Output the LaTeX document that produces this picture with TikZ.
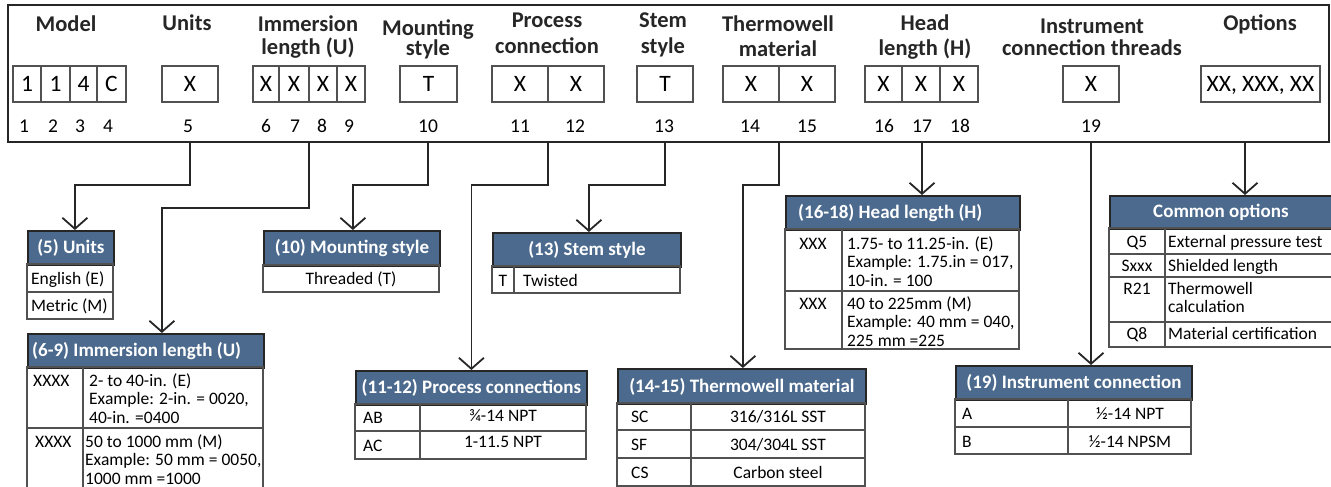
\documentclass[tikz,border=0pt]{standalone}
\usepackage{fontspec}
\setmainfont{Carlito}
\usetikzlibrary{arrows.meta}
\definecolor{hdrblue}{HTML}{4B6A8E}
\definecolor{ink}{HTML}{262626}
\begin{document}
\begin{tikzpicture}[x=1pt,y=-1pt,
  frame/.style={draw=ink, line width=2pt, inner sep=0pt, anchor=north west},
  cell/.style={draw=ink!80, line width=1.1pt, inner sep=0pt, minimum height=36pt, text height=15pt, text depth=0pt, font=\fontsize{23.5}{26}\selectfont},
  toplab/.style={font=\bfseries\fontsize{22.5}{26}\selectfont, align=center, inner sep=0pt, anchor=north, text=ink},
  num/.style={font=\fontsize{19.5}{22}\selectfont, anchor=base, inner sep=0pt},
  conn/.style={draw=ink, line width=1.8pt, -{Straight Barb[length=11pt,width=25pt]}},
  hdr/.style={fill=hdrblue, draw=ink, line width=1.8pt, inner sep=0pt, anchor=north west},
  hdrtext/.style={text=white, font=\bfseries\fontsize{19}{22}\selectfont, inner sep=0pt},
  body/.style={draw=ink!80, line width=1.1pt},
  bt/.style={font=\fontsize{17.5}{18.5}\selectfont, inner sep=0pt, anchor=base west},
  btc/.style={font=\fontsize{17.5}{18.5}\selectfont, inner sep=0pt, anchor=base},
  bml/.style={font=\fontsize{17.5}{18.5}\selectfont, inner sep=0pt, anchor=north west, align=left}
]
\useasboundingbox (0,0) rectangle (1331,487);

% ---------- top frame ----------
\node[frame, minimum width=1321pt, minimum height=137pt] (frame) at (7,4) {};

% headings (node top = first baseline - 18.2)
\node[toplab] (tModel) at (66,12.8) {\strut Model};
\node[toplab] (tUnits) at (187,11.8) {\strut Units};
\node[toplab] (tImm) at (308,12.8) {\strut Immersion\\[-3pt]length (U)};
\node[toplab] (tMount) at (428,17.3) {\strut Mounting\\[-6pt]style};
\node[toplab] (tProc) at (547,8.8) {\strut Process\\[0pt]connection};
\node[toplab] (tStem) at (663,8.8) {\strut Stem\\[0pt]style};
\node[toplab] (tTherm) at (778,12.8) {\strut Thermowell\\[-1pt]material};
\node[toplab] (tHead) at (925,11.8) {\strut Head\\[-1pt]length (H)};
\node[toplab] (tInst) at (1092,14.8) {\strut Instrument\\[-4pt]connection threads};
\node[toplab] (tOpt) at (1260,11.8) {\strut Options};

% code boxes
\node[cell, minimum width=28pt] (m1) at (27,84) {1};
\node[cell, minimum width=29pt] (m2) at (55.5,84) {1};
\node[cell, minimum width=27pt] (m3) at (83.5,84) {4};
\node[cell, minimum width=29pt] (m4) at (111.5,84) {C};
\node[cell, minimum width=56pt] (u5) at (190,84) {X};
\node[cell, minimum width=26pt] (i6) at (266,84) {X};
\node[cell, minimum width=30pt] (i7) at (294,84) {X};
\node[cell, minimum width=28pt] (i8) at (323,84) {X};
\node[cell, minimum width=28pt] (i9) at (351,84) {X};
\node[cell, minimum width=57pt] (t10) at (428.5,84) {T};
\node[cell, minimum width=56pt] (p11) at (520,84) {X};
\node[cell, minimum width=56pt] (p12) at (576,84) {X};
\node[cell, minimum width=56pt] (s13) at (665,84) {T};
\node[cell, minimum width=56pt] (w14) at (751,84) {X};
\node[cell, minimum width=56pt] (w15) at (807,84) {X};
\node[cell, minimum width=37pt] (h16) at (883.5,84) {X};
\node[cell, minimum width=38pt] (h17) at (921,84) {X};
\node[cell, minimum width=38pt] (h18) at (959,84) {X};
\node[cell, minimum width=56pt] (c19) at (1091,84) {X};
\node[cell, minimum width=119pt] (opt) at (1260.5,84) {XX, XXX, XX};

% position numbers
\node[num] (n1) at (24,132) {1};
\node[num] (n2) at (53,132) {2};
\node[num] (n3) at (80,132) {3};
\node[num] (n4) at (108,132) {4};
\node[num] (n5) at (188,132) {5};
\node[num] (n6) at (266,132) {6};
\node[num] (n7) at (295,132) {7};
\node[num] (n8) at (322,132) {8};
\node[num] (n9) at (349,132) {9};
\node[num] (n10) at (428,132) {10};
\node[num] (n11) at (520,132) {11};
\node[num] (n12) at (575,132) {12};
\node[num] (n13) at (664,132) {13};
\node[num] (n14) at (750,132) {14};
\node[num] (n15) at (807,132) {15};
\node[num] (n16) at (884,132) {16};
\node[num] (n17) at (922,132) {17};
\node[num] (n18) at (960,132) {18};
\node[num] (n19) at (1091,132) {19};

% ---------- tables ----------
% (5) Units
\node[hdr, minimum width=86pt, minimum height=34pt] (hU) at (27,230) {};
\node[hdrtext] (hUt) at (hU.center) {(5) Units};
\draw[body] (27,264) rectangle (113,292);
\draw[body] (27,292) rectangle (113,319);
\node[bt] (uE) at (31,284) {English (E)};
\node[bt] (uM) at (31,311) {Metric (M)};

% (6-9) Immersion length
\node[hdr, minimum width=236pt, minimum height=34pt] (hI) at (27,333) {};
\node[hdrtext, anchor=west] (hIt) at (hI.west) [xshift=5pt] {(6-9) Immersion length (U)};
\draw[body] (27,367) rectangle (263,428);
\draw[body] (27,428) rectangle (263,488);
\draw[body] (83,367) -- (83,488);
\node[bt] (iA) at (33,386) {XXXX};
\node[bml] (iAt) at (89,373) {\strut 2- to 40-in. (E)\\Example: 2-in. = 0020,\\40-in. =0400};
\node[bt] (iB) at (35,447) {XXXX};
\node[bml] (iBt) at (85,434) {\strut 50 to 1000 mm (M)\\Example: 50 mm = 0050,\\1000 mm =1000};

% (10) Mounting style
\node[hdr, minimum width=176pt, minimum height=35pt] (hM) at (263,230) {};
\node[hdrtext] (hMt) at (hM.center) {(10) Mounting style};
\draw[body] (263,265) rectangle (439,292);
\node[btc] (mT) at (351,284) {Threaded (T)};

% (11-12) Process connections
\node[hdr, minimum width=231pt, minimum height=34pt] (hP) at (355,370) {};
\node[hdrtext] (hPt) at (hP.center) {(11-12) Process connections};
\draw[body] (355,404) rectangle (586,431);
\draw[body] (355,431) rectangle (586,459);
\draw[body] (420,404) -- (420,459);
\node[bt] (pAB) at (363,423) {AB};
\node[btc] (pABt) at (503,421) {¾-14 NPT};
\node[bt] (pAC) at (363,451) {AC};
\node[btc] (pACt) at (503,447) {1-11.5 NPT};

% (13) Stem style
\node[hdr, minimum width=188pt, minimum height=34pt] (hS) at (492,232) {};
\node[hdrtext] (hSt) at (hS.center) {(13) Stem style};
\draw[body] (492,266) rectangle (680,293);
\draw[body] (514,266) -- (514,293);
\node[btc] (sT) at (503,286) {T};
\node[bt] (sTw) at (523,286) {Twisted};

% (14-15) Thermowell material
\node[hdr, minimum width=248pt, minimum height=35pt] (hT) at (617,368) {};
\node[hdrtext] (hTt) at (hT.center) {(14-15) Thermowell material};
\draw[body] (617,403) rectangle (865,430);
\draw[body] (617,430) rectangle (865,458);
\draw[body] (617,458) rectangle (865,486);
\draw[body] (691,403) -- (691,486);
\node[bt] (wSC) at (631,422) {SC};
\node[btc] (wSCt) at (778,422) {316/316L SST};
\node[bt] (wSF) at (631,450) {SF};
\node[btc] (wSFt) at (778,450) {304/304L SST};
\node[bt] (wCS) at (631,478) {CS};
\node[btc] (wCSt) at (778,478) {Carbon steel};

% (16-18) Head length
\node[hdr, minimum width=234pt, minimum height=34pt] (hH) at (785,195) {};
\node[hdrtext, anchor=west] (hHt) at (hH.west) [xshift=13pt] {(16-18) Head length (H)};
\draw[body] (785,229) rectangle (1019,291);
\draw[body] (785,291) rectangle (1019,349);
\draw[body] (842,229) -- (842,349);
\node[btc] (hA) at (813,249) {XXX};
\node[bml] (hAt) at (847,236) {\strut 1.75- to 11.25-in. (E)\\Example: 1.75.in = 017,\\10-in. = 100};
\node[btc] (hB) at (813,309) {XXX};
\node[bml] (hBt) at (847,296) {\strut 40 to 225mm (M)\\Example: 40 mm = 040,\\225 mm =225};

% (19) Instrument connection
\node[hdr, minimum width=236pt, minimum height=34pt] (hIC) at (955,365) {};
\node[hdrtext] (hICt) at (hIC.center) {(19) Instrument connection};
\draw[body] (955,399) rectangle (1191,427);
\draw[body] (955,427) rectangle (1191,454);
\draw[body] (1068,399) -- (1068,454);
\node[bt] (cA) at (962,419) {A};
\node[btc] (cAt) at (1130,419) {½-14 NPT};
\node[bt] (cB) at (962,447) {B};
\node[btc] (cBt) at (1130,447) {½-14 NPSM};

% Common options
\node[hdr, minimum width=224pt, minimum height=33pt] (hO) at (1109,195) {};
\node[hdrtext] (hOt) at ([xshift=-1pt]hO.center) {Common options};
\draw[body] (1109,228) rectangle (1333,254);
\draw[body] (1109,254) rectangle (1333,277);
\draw[body] (1109,277) rectangle (1333,322);
\draw[body] (1109,322) rectangle (1333,347);
\draw[body] (1165,228) -- (1165,347);
\node[btc] (oQ5) at (1137,247) {Q5};
\node[bt] (oQ5t) at (1168,247) {External pressure test};
\node[btc] (oS) at (1137,271) {Sxxx};
\node[bt] (oSt) at (1168,271) {Shielded length};
\node[btc] (oR) at (1137,294) {R21};
\node[bml] (oRt) at (1168,281) {\strut Thermowell\\calculation};
\node[btc] (oQ8) at (1137,339) {Q8};
\node[bt] (oQ8t) at (1168,339) {Material certification};

% ---------- connectors ----------
\coordinate (c5) at (190,141);
\coordinate (c69) at (309,141);
\coordinate (c10) at (428,141);
\coordinate (c1112) at (548,141);
\coordinate (c13) at (665,141);
\coordinate (c1415) at (779,141);
\coordinate (c1618) at (922,141);
\coordinate (c19) at (1091,141);
\coordinate (copt) at (1245,141);

\draw[conn] (c5) -- ++(0,44) -| ([xshift=4pt]hU.north);
\draw[conn] (c69) -- ++(0,67) -| ([xshift=16pt]hI.north);
\draw[conn] (c10) -- ++(0,44) -| ([xshift=1pt]hM.north);
\draw[conn] (c1112) -- ++(0,44) -| (hP.north);
\draw[conn] (c13) -- ++(0,44) -| ([xshift=2pt]hS.north);
\draw[conn] (c1415) -- ++(0,44) -| ([xshift=1pt]hT.north);
\draw[conn] (c1618) -- (c1618 |- hH.north);
\draw[conn] (c19) -- (c19 |- hIC.north);
\draw[conn] (copt) -- (copt |- hO.north);
\end{tikzpicture}
\end{document}
